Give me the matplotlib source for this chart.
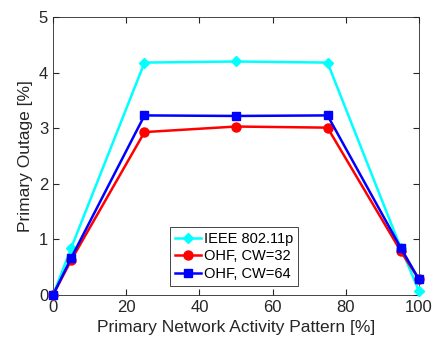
import numpy as np
import matplotlib
matplotlib.use('Agg')
import matplotlib.pyplot as plt

plt.rcParams['font.family'] = ['Liberation Sans', 'DejaVu Sans']

x = [0, 5, 25, 50, 75, 95, 100]
ieee = [0.0, 0.85, 4.18, 4.20, 4.18, 0.85, 0.07]
ohf32 = [0.0, 0.63, 2.93, 3.03, 3.01, 0.79, 0.28]
ohf64 = [0.0, 0.67, 3.23, 3.22, 3.23, 0.85, 0.28]

fig = plt.figure(figsize=(4.39, 3.48), dpi=100)
ax = fig.add_axes([53/439, 53/348, 366/439, 278/348])

ax.plot(x, ieee, color='cyan', marker='D', ms=5, lw=1.8, label='IEEE 802.11p', clip_on=False, zorder=3)
ax.plot(x, ohf32, color='red', marker='o', ms=6.5, lw=1.8, label='OHF, CW=32', clip_on=False, zorder=4)
ax.plot(x, ohf64, color='blue', marker='s', ms=5.5, lw=1.8, label='OHF, CW=64', clip_on=False, zorder=5)

ax.set_xlim(0, 100)
ax.set_ylim(0, 5)
ax.set_xticks([0, 20, 40, 60, 80, 100])
ax.set_yticks([0, 1, 2, 3, 4, 5])
ax.tick_params(direction='in', labelsize=12, colors='#262626', length=4, top=True, right=True)
for s in ax.spines.values():
    s.set_color('#262626')
    s.set_linewidth(0.6)
ax.set_xlabel('Primary Network Activity Pattern [%]', fontsize=12.5, color='#262626')
ax.set_ylabel('Primary Outage [%]', fontsize=12.5, color='#262626')

leg = ax.legend(loc='lower center', bbox_to_anchor=(0.495, 0.032), fontsize=10.5, fancybox=False,
                edgecolor='#262626', framealpha=1, handlelength=1.8, borderpad=0.35,
                labelspacing=0.25, handletextpad=0.2, borderaxespad=0)
leg.get_frame().set_linewidth(0.6)

fig.savefig('out.png', dpi=100)
